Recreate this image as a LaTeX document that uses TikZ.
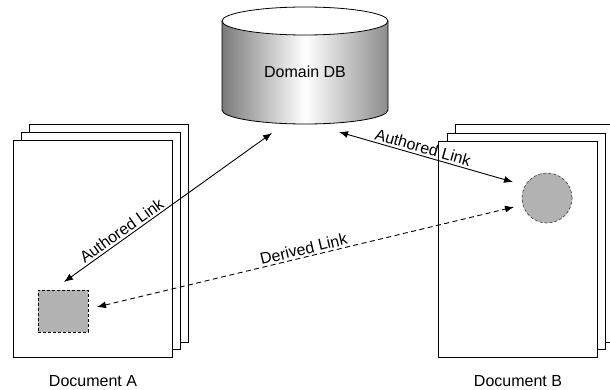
\documentclass[tikz,border=0pt]{standalone}
\usepackage{fontspec}
\setmainfont{Liberation Sans}
\usetikzlibrary{arrows.meta}

\tikzset{
  page/.style={draw=black, line width=0.8pt, fill=white},
  anchorshape/.style={fill=black!30, dashed, dash pattern=on 3pt off 2pt, line width=0.7pt},
  tip/.tip={Latex[length=9pt,width=7pt]},
  link/.style={tip-tip, line width=0.9pt},
  derived/.style={link, dash pattern=on 5pt off 3.5pt},
  lbl/.style={font=\fontsize{16}{19}\selectfont, inner sep=2pt},
}

\begin{document}
\begin{tikzpicture}[x=1pt, y=-1pt]
\useasboundingbox (0,0) rectangle (610,390);

% Document A: stack of three pages
\draw[page] (29,124) rectangle (188,342);
\draw[page] (21,132) rectangle (180,349);
\draw[page] (13,140) rectangle (172,357);
\node[lbl] (docA) at (93,381) {Document A};

% Document B: stack of three pages
\draw[page] (455,124) rectangle (616,342);
\draw[page] (447,133) rectangle (605,349);
\draw[page] (438,141) rectangle (597,357);
\node[lbl] (docB) at (518,381) {Document B};

% Domain database cylinder
\path[left color=black!52, right color=black!45, middle color=white]
  (222,21) -- (222,110) arc[start angle=180, end angle=0, x radius=83, y radius=14]
  -- (388,21) -- cycle;
\draw[line width=0.8pt] (222,21) -- (222,110)
  arc[start angle=180, end angle=0, x radius=83, y radius=14] -- (388,21);
\draw[line width=0.8pt, fill=white] (305,21) ellipse[x radius=83, y radius=14];
\node[lbl] (db) at (305,72) {Domain DB};

% Anchored regions inside the documents
\node[anchorshape, draw=black, minimum width=50pt, minimum height=42pt, inner sep=0pt]
  (sqA) at (63,311) {};
\node[anchorshape, draw=black!70, circle, minimum size=50pt, inner sep=0pt]
  (circB) at (547,198) {};

% Link end points
\coordinate (dbL) at (272,133);
\coordinate (dbR) at (339,132);
\coordinate (aTop) at (64,282);
\coordinate (aRight) at (97,307);
\coordinate (bUp) at (513,182);
\coordinate (bLeft) at (514,207);

% Links
\draw[link] (aTop) -- node[lbl, sloped, above, pos=0.3] {Authored Link} (dbL);
\draw[link] (dbR) -- node[lbl, sloped, above, pos=0.47] {Authored Link} (bUp);
\draw[derived] (aRight) -- node[lbl, sloped, above, pos=0.5] {Derived Link} (bLeft);
\end{tikzpicture}
\end{document}
